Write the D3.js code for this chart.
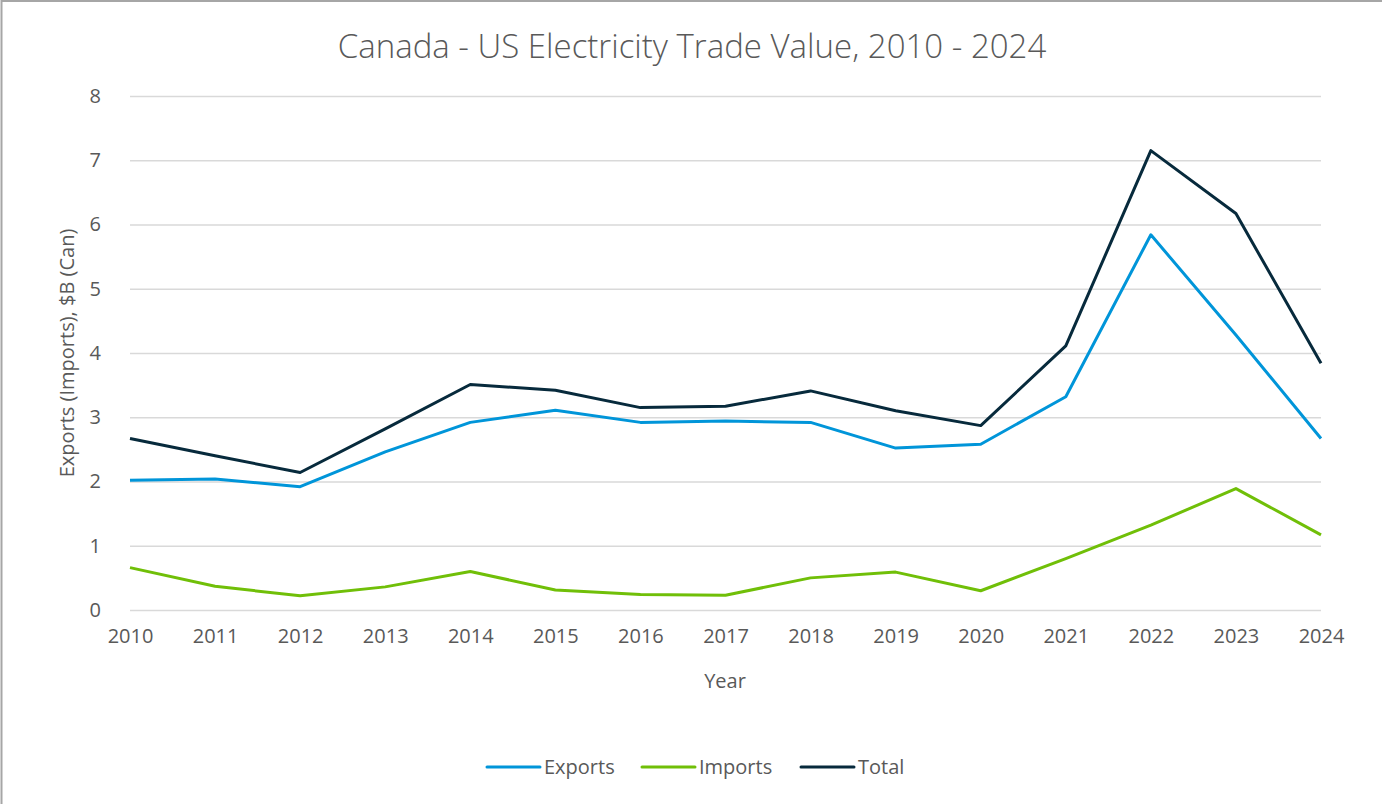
<!DOCTYPE html>
<html>
<head>
<meta charset="utf-8">
<script src="https://cdn.jsdelivr.net/npm/d3@7/dist/d3.min.js"></script>
<style>
  html, body { margin: 0; padding: 0; background: #fff; }
  svg { display: block; font-family: "Open Sans", sans-serif; }
  .tick text { fill: #595959; font-size: 20px; font-family: "Open Sans", sans-serif; }
</style>
</head>
<body>
<svg id="chart" width="1382" height="804"></svg>
<script>
// data
const years = [2010, 2011, 2012, 2013, 2014, 2015, 2016, 2017, 2018, 2019, 2020, 2021, 2022, 2023, 2024];
const exportsB = [2.02, 2.04, 1.92, 2.46, 2.92, 3.11, 2.92, 2.94, 2.92, 2.52, 2.58, 3.32, 5.84, 4.28, 2.67];
const importsB = [0.66, 0.37, 0.22, 0.36, 0.60, 0.31, 0.24, 0.23, 0.50, 0.59, 0.30, 0.80, 1.32, 1.89, 1.17];
const totalB = [2.67, 2.40, 2.14, 2.82, 3.51, 3.42, 3.15, 3.17, 3.41, 3.10, 2.87, 4.11, 7.15, 6.17, 3.84];
const yTicks = [0, 1, 2, 3, 4, 5, 6, 7, 8];

const series = [
    {name: 'Exports', values: exportsB, color: '#0095d9'},
    {name: 'Imports', values: importsB, color: '#70bf08'},
    {name: 'Total', values: totalB, color: '#072a3c'}
];

const margin = {top: 96, right: 61, bottom: 194, left: 130};
const W = 1382, H = 804;
const width = W - margin.left - margin.right;
const height = H - margin.top - margin.bottom;

const svg = d3.select('#chart');

// outer frame (only top and left edges show in the reference)
svg.append('rect')
    .attr('x', 1.5).attr('y', 1)
    .attr('width', W + 10).attr('height', H + 10)
    .attr('fill', 'none')
    .attr('stroke', '#a6a6a6')
    .attr('stroke-width', 2);

svg.append('text')
    .attr('x', 692).attr('y', 58)
    .attr('text-anchor', 'middle')
    .attr('fill', '#595959')
    .attr('font-size', 33)
    .attr('font-weight', 300)
    .text('Canada - US Electricity Trade Value, 2010 - 2024');

const xScale = d3.scaleLinear().domain([years[0], years[years.length - 1]]).range([0, width]);
const yScale = d3.scaleLinear().domain([0, 8]).range([height, 0]);

const g = svg.append('g').attr('transform', `translate(${margin.left},${margin.top})`);

// gridlines + y labels
const yAxis = g.append('g')
    .call(d3.axisLeft(yScale).tickValues(yTicks).tickSize(-width).tickPadding(29).tickFormat(d3.format('d')));
yAxis.attr('font-family', null).attr('font-size', null);
yAxis.select('.domain').remove();
yAxis.selectAll('.tick line').attr('stroke', '#d9d9d9').attr('stroke-width', 1.5);

const xAxis = g.append('g')
    .attr('transform', `translate(0,${height})`)
    .call(d3.axisBottom(xScale).tickValues(years).tickSize(0).tickPadding(19).tickFormat(d3.format('d')));
xAxis.attr('font-family', null).attr('font-size', null);
xAxis.select('.domain').remove();

g.append('text')
    .attr('x', 725 - margin.left).attr('y', 688 - margin.top)
    .attr('text-anchor', 'middle')
    .attr('fill', '#595959')
    .attr('font-size', 20)
    .text('Year');

svg.append('text')
    .attr('transform', 'translate(74,353) rotate(-90)')
    .attr('text-anchor', 'middle')
    .attr('fill', '#595959')
    .attr('font-size', 20)
    .text('Exports (Imports), $B (Can)');

const line = d3.line()
    .x((d, i) => xScale(years[i]))
    .y(d => yScale(d));

g.selectAll('path.series')
    .data(series)
    .enter().append('path')
    .attr('class', 'series')
    .attr('d', d => line(d.values))
    .attr('fill', 'none')
    .attr('stroke', d => d.color)
    .attr('stroke-width', 3)
    .attr('stroke-linejoin', 'round');

// legend
const legendX = [487, 642, 801];
const legend = svg.append('g').selectAll('g')
    .data(series)
    .enter().append('g')
    .attr('transform', (d, i) => `translate(${legendX[i]},767)`);

legend.append('line')
    .attr('x1', 0).attr('x2', 53)
    .attr('stroke', d => d.color)
    .attr('stroke-width', 3)
    .attr('stroke-linecap', 'round');

legend.append('text')
    .attr('x', 57).attr('y', 7)
    .attr('fill', '#595959')
    .attr('font-size', 20)
    .text(d => d.name);
</script>
</body>
</html>
